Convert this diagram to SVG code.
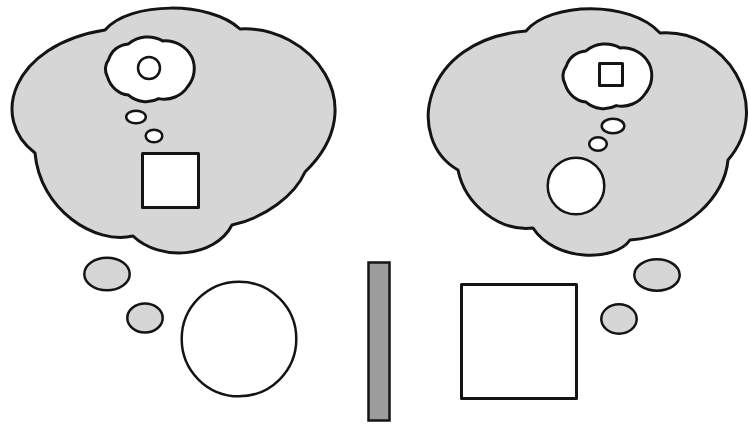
<svg xmlns="http://www.w3.org/2000/svg" width="749" height="428" viewBox="0 0 749 428">
<style>
.ln{stroke:#141414;stroke-width:3;stroke-linejoin:round}
.th{stroke:#141414;stroke-width:2.5}
.gray{fill:#d6d6d6}
.white{fill:#ffffff}
.bar{fill:#9c9c9c}
</style>
<defs>
<path id="bubble" d="M-42.3,-10.1 A22,22 0 0 1 -22.5,-25.6 A30,30 0 0 1 11.6,-28.6 A30,30 0 0 1 40.8,-12.5 A28,28 0 0 1 36.8,17 A28,28 0 0 1 7.8,29.1 A27,27 0 0 1 -22.5,25.6 A25,25 0 0 1 -43.4,7.7 A17,17 0 0 1 -42.3,-10.1 Z"/>
</defs>
<rect width="749" height="428" fill="#ffffff"/>
<g id="left-figure">
  <path class="ln gray" d="M105,30 C130,1 210,1 240,29 C310,25 375,105 305,172 C295,195 265,218 232,225 C215,258 160,262 133,236 C95,245 40,210 35,153 C-10,120 10,45 105,30 Z"/>
  <use href="#bubble" class="ln white" transform="translate(151,69.5)"/>
  <circle class="th white" cx="149" cy="68" r="11"/>
  <ellipse class="th white" cx="136" cy="117" rx="9.8" ry="6.3"/>
  <ellipse class="th white" cx="154" cy="136" rx="8.3" ry="6.3"/>
  <rect class="ln white" x="142.5" y="153.5" width="56" height="54"/>
  <ellipse class="th gray" cx="107" cy="274" rx="22.7" ry="16.2"/>
  <ellipse class="th gray" cx="145" cy="318" rx="17.7" ry="14.4"/>
  <circle class="th white" cx="239" cy="339" r="57.3"/>
</g>
<g id="mirror">
  <rect class="th bar" x="368.5" y="262.5" width="21" height="158"/>
</g>
<g id="right-figure">
  <path class="ln gray" d="M526,31 C550,2 630,0 660,33 C725,28 775,105 728,160 C725,195 690,235 630,240 C615,262 555,262 533,228 C500,232 465,205 458,170 C405,140 420,40 526,31 Z"/>
  <use href="#bubble" class="ln white" transform="translate(608.5,76.5)"/>
  <rect class="ln white" x="599.5" y="63.5" width="23" height="22"/>
  <ellipse class="th white" cx="613" cy="126" rx="11.3" ry="7.3"/>
  <ellipse class="th white" cx="598" cy="144" rx="8.8" ry="6.8"/>
  <circle class="th white" cx="576" cy="186" r="28.3"/>
  <ellipse class="th gray" cx="657" cy="275" rx="22.7" ry="15.7"/>
  <ellipse class="th gray" cx="619" cy="319" rx="17.7" ry="14.7"/>
  <rect class="ln white" x="461.5" y="284.5" width="115" height="114"/>
</g>
</svg>
